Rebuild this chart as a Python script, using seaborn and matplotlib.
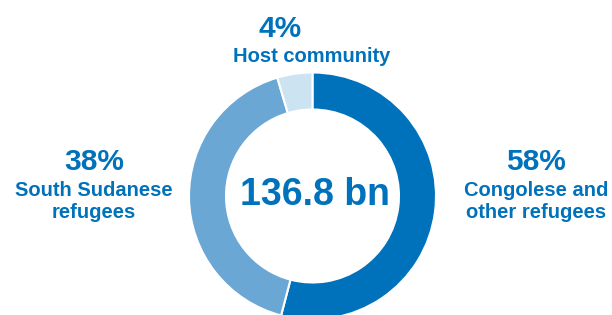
import matplotlib
matplotlib.use("Agg")
import matplotlib.pyplot as plt
import seaborn as sns

# data
labels = ["Congolese and\nother refugees", "South Sudanese\nrefugees", "Host community"]
pct_labels = [58, 38, 4]
amounts = [74.0, 56.5, 6.3]  # slice sizes as drawn (bn)
total_label = "136.8 bn"

sns.set_theme(style="white")
plt.rcParams["font.family"] = ["Liberation Sans", "DejaVu Sans"]

blue = "#0072bc"
colors = sns.color_palette([blue, "#6aa7d5", "#cce3f2"])

fig = plt.figure(figsize=(6.12, 3.15), dpi=100)
ax = fig.add_axes([0, 0, 1, 1])

ax.pie(amounts, colors=colors, startangle=90, counterclock=False,
       radius=123.5, center=(312.5, -196),
       wedgeprops=dict(width=37, edgecolor="white", linewidth=1.5))
ax.set_xlim(0, 612)
ax.set_ylim(-315, 0)
ax.set_aspect("equal")
ax.axis("off")

big = dict(color=blue, fontweight="bold", ha="center", va="baseline")

# centre total
ax.text(315, -205, total_label, fontsize=27, **big)

# segment labels
pos = [(536, -170), (94, -170), (280, -37)]
for (x, y), lab, s in zip(pos, labels, pct_labels):
    ax.text(x, y, f"{s}%", fontsize=21.5, **big)
    lines = lab.split("\n")
    if len(lines) == 1:
        ax.text(312, -62, lines[0], fontsize=14.5, **big)
    else:
        for i, ln in enumerate(lines):
            ax.text(x, y - 26 - 22 * i, ln, fontsize=14.5, **big)

fig.savefig("out.png", dpi=100)
